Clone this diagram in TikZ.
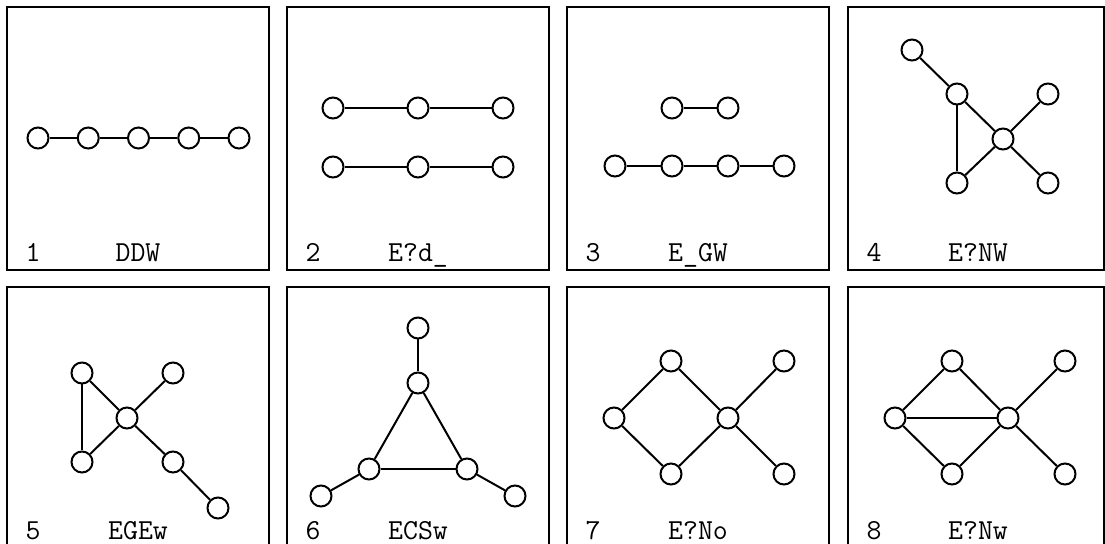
\documentclass[tikz,border=0pt]{standalone}
\usepackage{tikz}

\tikzset{
  vtx/.style={circle, draw, fill=white, line width=1pt, minimum size=10.5pt, inner sep=0pt},
  link/.style={line width=1pt},
  panel/.style={line width=1pt},
  num/.style={font=\fontsize{14.5}{17}\selectfont\ttfamily, inner sep=0pt, anchor=base},
  code/.style={font=\fontsize{14.5}{17}\selectfont\ttfamily, inner sep=0pt, anchor=base}
}

\begin{document}
\begin{tikzpicture}[x=0.5pt, y=-0.5pt]
    \useasboundingbox (0,0) rectangle (1105,544);

    % Draw panel frames
    \foreach \x in {7,287,567}{
        \draw[panel] (\x,7) rectangle ++(262,263);
        \draw[panel] (\x,287) rectangle ++(262,263);
    }
    \draw[panel] (848,7) rectangle (1103.5,270);
    \draw[panel] (848,287) rectangle (1103.5,550);

    % Panel labels
    \foreach \n/\x/\c/\y/\s in {1/7/138/262/DDW, 2/287/418/262/E?d\_, 3/567/698/262/E\_GW, 4/848/978/262/E?NW,
                              5/7/138/540/EGEw, 6/287/418/540/ECSw, 7/567/698/540/E?No, 8/848/978/540/E?Nw}{
        \node[num] (n\n) at (\x+26,\y) {\n};
        \node[code] (s\n) at (\c,\y) {\s};
    }

    % 1: path on five vertices
    \foreach \i in {1,...,5}
        \node[vtx] (a\i) at ({38+50.25*(\i-1)},138) {};
    \foreach \i/\j in {1/2,2/3,3/4,4/5}
        \draw[link] (a\i) -- (a\j);

    % 2: two paths on three vertices
    \foreach \i/\x/\y in {1/333/108, 2/418/108, 3/503/108, 4/333/167, 5/418/167, 6/503/167}
        \node[vtx] (b\i) at (\x,\y) {};
    \foreach \i/\j in {1/2,2/3,4/5,5/6}
        \draw[link] (b\i) -- (b\j);

    % 3: an edge and a path on four vertices
    \foreach \i/\x/\y in {1/672/108, 2/728/108, 3/615/166, 4/672/166, 5/728/166, 6/784/166}
        \node[vtx] (c\i) at (\x,\y) {};
    \foreach \i/\j in {1/2,3/4,4/5,5/6}
        \draw[link] (c\i) -- (c\j);

    % 4
    \foreach \i/\x/\y in {1/912/50, 2/957/94, 3/1048/94, 4/1003/139, 5/957/183, 6/1048/183}
        \node[vtx] (d\i) at (\x,\y) {};
    \foreach \i/\j in {1/2,2/4,2/5,5/4,4/3,4/6}
        \draw[link] (d\i) -- (d\j);

    % 5
    \foreach \i/\x/\y in {1/82/373, 2/173/373, 3/127/418, 4/82/462, 5/173/462, 6/218/508}
        \node[vtx] (e\i) at (\x,\y) {};
    \foreach \i/\j in {1/4,1/3,3/2,3/4,3/5,5/6}
        \draw[link] (e\i) -- (e\j);

    % 6: triangle with pendant vertices
    \foreach \i/\x/\y in {1/418/328, 2/418/383, 3/369/469, 4/467/469, 5/321/496, 6/515/496}
        \node[vtx] (f\i) at (\x,\y) {};
    \foreach \i/\j in {1/2,2/3,2/4,3/4,3/5,4/6}
        \draw[link] (f\i) -- (f\j);

    % 7
    \foreach \i/\x/\y in {1/671/361, 2/614/418, 3/671/474, 4/728/418, 5/784/361, 6/784/474}
        \node[vtx] (g\i) at (\x,\y) {};
    \foreach \i/\j in {2/1,2/3,1/4,3/4,4/5,4/6}
        \draw[link] (g\i) -- (g\j);

    % 8
    \foreach \i/\x/\y in {1/952/361, 2/895/418, 3/952/474, 4/1008/418, 5/1065/361, 6/1065/474}
        \node[vtx] (h\i) at (\x,\y) {};
    \foreach \i/\j in {2/1,2/3,2/4,1/4,3/4,4/5,4/6}
        \draw[link] (h\i) -- (h\j);
\end{tikzpicture}
\end{document}
